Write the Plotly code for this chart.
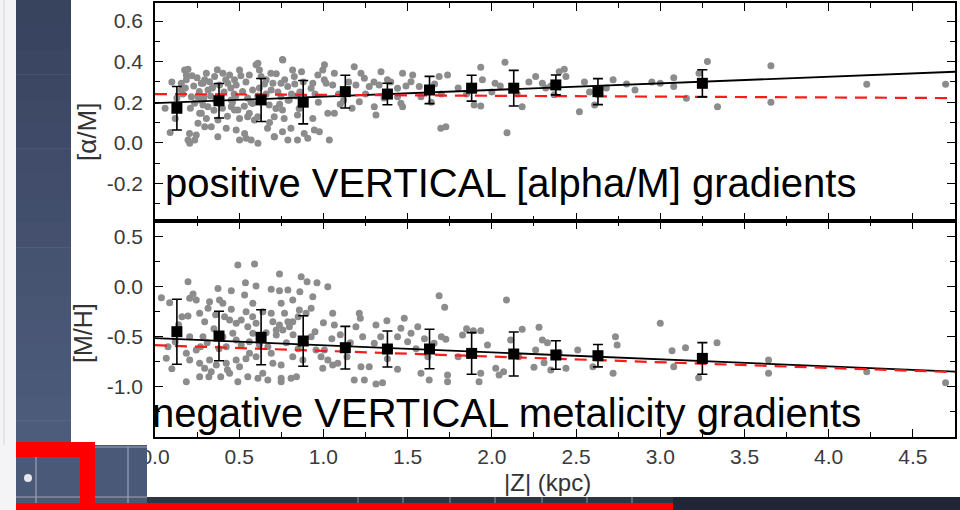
import plotly.graph_objects as go

# ---------------- data ----------------
# individual stars, upper panel: |Z| (kpc) and [alpha/M]
top_z = [0.176, 0.186, 0.156, 0.196, 0.186, 0.156, 0.216, 0.235, 0.275, 0.295, 0.315, 0.354, 0.383, 0.305,
         0.285, 0.263, 0.255, 0.324, 0.344, 0.285, 0.314, 0.265, 0.305, 0.334, 0.205, 0.196, 0.236, 0.245,
         0.206, 0.275, 0.255, 0.295, 0.374, 0.403, 0.443, 0.432, 0.482, 0.52, 0.453, 0.492, 0.502, 0.55,
         0.373, 0.423, 0.482, 0.502, 0.541, 0.472, 0.502, 0.453, 0.472, 0.59, 0.532, 0.571, 0.611, 0.709,
         0.789, 0.56, 0.60, 0.62, 0.63, 0.688, 0.757, 0.70, 0.748, 0.788, 0.817, 0.827, 0.58, 0.56, 0.61,
         0.678, 0.718, 0.757, 0.708, 0.767, 0.668, 0.708, 0.757, 0.807, 0.846, 0.856, 0.797, 0.748, 0.886,
         0.886, 0.846, 0.611, 0.759, 0.66, 0.62, 0.54, 0.41, 0.36, 0.23, 0.13, 0.10, 0.12, 0.09, 0.06, 0.40,
         0.64, 0.86, 0.88, 0.84, 0.72, 0.68, 0.58, 0.48, 0.43, 0.37, 0.22,
         0.165, 0.25, 0.33, 0.39, 0.45, 0.51, 0.57, 0.65, 0.73, 0.79, 0.87, 0.21, 0.29, 0.35, 0.42, 0.47,
         0.53, 0.61, 0.69, 0.77, 0.83, 0.18, 0.27, 0.34, 0.46, 0.55, 0.66, 0.74, 0.81,
         1.006, 0.996, 0.967, 0.937, 0.927, 1.016, 1.065, 1.055, 1.026, 1.065, 0.937, 0.946, 0.976, 0.907,
         1.035, 1.183, 1.223, 1.243, 1.193, 1.272, 1.213, 1.302, 1.312, 1.342, 1.331, 1.40, 1.44, 1.47,
         1.53, 1.52, 1.49, 1.569, 1.579, 1.44, 1.46, 1.47, 1.687, 1.697, 1.727, 1.737, 0.95, 0.97, 1.09,
         1.12, 1.15, 1.17, 1.25, 1.36, 1.62, 1.66, 1.70, 1.10, 1.005, 1.30, 1.38, 1.64,
         1.934, 1.944, 1.895, 1.934, 2.019, 2.05, 2.078, 2.09, 2.18, 2.26, 2.30, 2.32, 2.37, 2.40, 2.43,
         2.44, 2.52, 2.61, 1.80, 1.85, 2.00, 2.15, 2.22, 2.35, 2.55, 2.58, 2.68, 2.72, 2.80, 2.85, 2.95,
         3.0, 3.08, 3.08, 3.155, 3.23, 3.28, 3.34, 3.657, 3.657, 4.226, 4.694]
top_alpha = [0.359, 0.31, 0.26, 0.362, 0.334, 0.293, 0.227, 0.195, 0.293, 0.31, 0.26, 0.326, 0.285, 0.343,
             0.293, 0.252, 0.227, 0.301, 0.277, 0.186, 0.178, 0.145, 0.12, 0.079, 0.046, 0.013, 0.013, 0.038,
             -0.003, 0.145, 0.096, 0.079, 0.112, 0.343, 0.334, 0.293, 0.285, 0.252, 0.178, 0.161, 0.12, 0.128,
             0.029, 0.071, 0.063, 0.013, 0.022, 0.31, 0.359, 0.211, 0.161, 0.112, 0.046, 0.013, -0.003, 0.03,
             0.013, 0.334, 0.384, 0.359, 0.326, 0.343, 0.41, 0.293, 0.293, 0.277, 0.359, 0.326, 0.194, 0.145,
             0.128, 0.186, 0.169, 0.161, 0.128, 0.12, 0.071, 0.029, 0.054, 0.071, 0.137, 0.169, 0.211, 0.227,
             0.194, 0.046, 0.013, 0.392, 0.408, 0.24, 0.27, 0.30, 0.25, 0.21, 0.28, 0.22, 0.30, 0.12, 0.05,
             0.17, 0.17, 0.21, 0.25, 0.30, 0.23, 0.34, 0.10, 0.26, 0.23, 0.13, 0.36, 0.33,
             0.24, 0.32, 0.23, 0.19, 0.27, 0.33, 0.20, 0.29, 0.25, 0.21, 0.35, 0.17, 0.22, 0.16, 0.31, 0.24,
             0.18, 0.23, 0.26, 0.31, 0.29, 0.27, 0.21, 0.27, 0.20, 0.22, 0.31, 0.19, 0.24,
             0.384, 0.359, 0.334, 0.293, 0.269, 0.293, 0.343, 0.285, 0.145, 0.145, 0.12, 0.063, 0.054, 0.022,
             0.013, 0.375, 0.343, 0.318, 0.285, 0.277, 0.202, 0.178, 0.137, 0.35, 0.285, 0.30, 0.269, 0.343,
             0.334, 0.301, 0.28, 0.277, 0.227, 0.227, 0.195, 0.178, 0.326, 0.071, 0.079, 0.334, 0.24, 0.20,
             0.24, 0.21, 0.30, 0.17, 0.24, 0.22, 0.26, 0.29, 0.24, 0.19, 0.31, 0.30, 0.31, 0.20,
             0.372, 0.31, 0.186, 0.181, 0.293, 0.28, 0.397, 0.049, 0.178, 0.326, 0.293, 0.27, 0.236, 0.35,
             0.362, 0.326, 0.153, 0.186, 0.27, 0.24, 0.25, 0.24, 0.30, 0.28, 0.30, 0.25, 0.27, 0.31, 0.29,
             0.26, 0.30,
             0.293, 0.321, 0.277, 0.219, 0.343, 0.40, 0.178, 0.38, 0.2, 0.288, 0.288]

# individual stars, lower panel: |Z| (kpc) and [M/H]
bot_z = [0.492, 0.591, 0.739, 0.868, 0.196, 0.374, 0.453, 0.537, 0.60, 0.69, 0.739, 0.789, 0.038, 0.087,
         0.206, 0.226, 0.245, 0.324, 0.383, 0.403, 0.453, 0.532, 0.541, 0.581, 0.64, 0.69, 0.749, 0.769,
         0.818, 0.818, 0.857, 0.196, 0.265, 0.295, 0.315, 0.413, 0.443, 0.482, 0.512, 0.551, 0.60, 0.70,
         0.72, 0.759, 0.798, 0.077, 0.067, 0.186, 0.206, 0.245, 0.265, 0.295, 0.324, 0.334, 0.364, 0.265,
         0.186, 0.423, 0.443, 0.482, 0.502, 0.492, 0.551, 0.561, 0.60, 0.611, 0.64, 0.69, 0.70, 0.749,
         0.749, 0.808, 0.818, 0.878, 0.462, 0.482, 0.512, 0.403, 0.423, 0.285, 0.31, 0.206, 0.581, 0.72,
         0.739, 0.789, 0.32, 0.39, 0.43, 0.67, 0.749, 0.84, 0.35, 0.38, 0.56, 0.62, 0.66, 0.67, 0.78, 0.82,
         0.85, 0.14, 0.12, 0.10, 0.16, 0.36, 0.58, 0.86, 0.85, 0.54, 0.27,
         0.903, 0.962, 1.026, 0.937, 0.927, 0.897, 1.055, 1.065, 1.213, 1.219, 1.193, 1.312, 1.377, 1.48,
         1.46, 1.687, 1.72, 0.927, 0.956, 0.986, 1.006, 1.026, 1.055, 1.085, 0.996, 1.233, 1.302, 1.223,
         1.272, 1.183, 1.243, 1.312, 1.351, 1.44, 1.44, 1.52, 1.657, 1.579, 1.628, 1.737, 0.95, 1.05, 1.10,
         1.16, 1.34, 1.50, 1.55, 1.60, 1.70, 1.14, 1.38, 1.62, 1.00, 1.56,
         1.727, 1.737, 2.087, 1.826, 1.85, 1.89, 1.934, 1.974, 1.934, 1.924, 2.023, 2.043, 2.07, 2.112,
         2.18, 2.28, 2.30, 2.33, 2.26, 2.25, 2.31, 2.35, 2.44, 2.51, 2.60, 2.734, 2.744, 2.72, 1.80, 2.16,
         2.40,
         3.0, 3.07, 3.15, 3.08, 3.228, 3.337, 3.643, 3.643, 4.226, 4.694]
bot_mh = [0.217, 0.227, 0.127, 0.1, 0.05, -0.017, -0.04, 0.04, 0.007, -0.026, -0.04, -0.033, -0.11, -0.16,
          -0.116, -0.073, -0.133, -0.15, -0.133, -0.166, -0.226, -0.083, -0.25, -0.166, -0.25, -0.266,
          -0.166, -0.266, -0.133, -0.35, -0.233, -0.293, -0.266, -0.35, -0.216, -0.30, -0.333, -0.366,
          -0.333, -0.40, -0.366, -0.35, -0.433, -0.433, -0.40, -0.60, -0.716, -0.666, -0.733, -0.633,
          -0.766, -0.816, -0.733, -0.85, -0.783, -0.90, -0.95, -0.766, -0.866, -0.733, -0.80, -0.95, -0.90,
          -0.666, -0.70, -0.916, -0.866, -0.666, -0.766, -0.783, -0.916, -0.916, -0.70, -0.733, -0.466,
          -0.533, -0.583, -0.50, -0.60, -0.50, -0.56, -0.50, -0.466, -0.483, -0.383, -0.35, -0.90, -0.90,
          -0.83, -0.933, -0.95, -0.90, -0.42, -0.62, -0.55, -0.58, -0.46, -0.60, -0.56, -0.48, -0.62, -0.38,
          -0.55, -0.82, -0.30, -0.28, -0.30, -0.05, -0.30, -0.72, -0.60,
          0.05, 0.04, 0.0, -0.10, -0.216, -0.266, -0.266, -0.383, -0.266, -0.316, -0.40, -0.383, -0.34,
          -0.316, -0.416, -0.09, -0.206, -0.50, -0.633, -0.70, -0.633, -0.733, -0.783, -0.766, -0.816,
          -0.50, -0.566, -0.80, -0.80, -0.933, -0.933, -0.973, -0.96, -0.826, -0.50, -0.466, -0.566,
          -0.866, -0.933, -0.95, -0.45, -0.52, -0.48, -0.56, -0.50, -0.55, -0.62, -0.52, -0.50, -0.70,
          -0.72, -0.70, -0.36, -0.40,
          -0.526, -0.883, -0.133, -0.483, -0.42, -0.44, -0.44, -0.583, -0.866, -0.95, -0.816, -0.883,
          -0.85, -0.533, -0.426, -0.406, -0.533, -0.56, -0.633, -0.806, -0.76, -0.833, -0.816, -0.633,
          -0.80, -0.50, -0.583, -0.866, -0.70, -0.70, -0.66,
          -0.366, -0.64, -0.61, -0.80, -0.91, -0.56, -0.733, -0.866, -0.85, -0.96]

# binned means with dispersion
bin_z = [0.13, 0.38, 0.63, 0.88, 1.13, 1.38, 1.63, 1.88, 2.13, 2.38, 2.63, 3.25]
bin_alpha = [0.17, 0.207, 0.211, 0.20, 0.252, 0.24, 0.26, 0.269, 0.269, 0.285, 0.252, 0.293]
bin_alpha_err = [0.107, 0.085, 0.106, 0.107, 0.081, 0.053, 0.067, 0.064, 0.088, 0.049, 0.064, 0.067]
bin_mh = [-0.45, -0.493, -0.506, -0.543, -0.61, -0.623, -0.623, -0.667, -0.673, -0.683, -0.69, -0.717]
bin_mh_err = [0.325, 0.247, 0.275, 0.253, 0.213, 0.18, 0.197, 0.208, 0.22, 0.142, 0.112, 0.158]

# linear fits (end points over the plotted |Z| range)
fit_z = [0.0, 4.75]
alpha_fit = [0.195, 0.35]
alpha_model = [0.24, 0.22]
mh_fit = [-0.515, -0.85]
mh_model = [-0.585, -0.855]

x_ticks = [0.0, 0.5, 1.0, 1.5, 2.0, 2.5, 3.0, 3.5, 4.0, 4.5]
x_ticktext = ["0.0", "0.5", "1.0", "1.5", "2.0", "2.5", "3.0", "3.5", "4.0", "4.5"]
alpha_ticks = [-0.2, 0.0, 0.2, 0.4, 0.6]
alpha_ticktext = ["-0.2", "0.0", "0.2", "0.4", "0.6"]
mh_ticks = [-1.0, -0.5, 0.0, 0.5]
mh_ticktext = ["-1.0", "-0.5", "0.0", "0.5"]

# ---------------- figure ----------------
W, H = 960, 510


def px(x):
    return x / W


def py(y):
    return 1 - y / H


GREY = "#8c8c8c"
RED = "#ff1a1a"
FONT = "Liberation Sans, Arial, Helvetica, sans-serif"

fig = go.Figure()

for xa, ya, zs, vs, fit, model, bv, be in [
    ("x", "y", top_z, top_alpha, alpha_fit, alpha_model, bin_alpha, bin_alpha_err),
    ("x2", "y2", bot_z, bot_mh, mh_fit, mh_model, bin_mh, bin_mh_err),
]:
    fig.add_trace(go.Scatter(x=zs, y=vs, mode="markers", xaxis=xa, yaxis=ya,
                             marker=dict(color=GREY, size=7, line=dict(width=0)),
                             hoverinfo="skip"))
    fig.add_trace(go.Scatter(x=fit_z, y=fit, mode="lines", xaxis=xa, yaxis=ya,
                             line=dict(color="black", width=1.8)))
    fig.add_trace(go.Scatter(x=fit_z, y=model, mode="lines", xaxis=xa, yaxis=ya,
                             line=dict(color=RED, width=2.2, dash="12px,8px")))
    fig.add_trace(go.Scatter(x=bin_z, y=bv, mode="markers", xaxis=xa, yaxis=ya,
                             marker=dict(symbol="square", color="black", size=11),
                             error_y=dict(type="data", array=be, visible=True,
                                          color="black", thickness=1.6, width=5)))

axis_common = dict(showline=True, linecolor="black", linewidth=1.5, mirror="ticks",
                   ticks="inside", ticklen=8, tickwidth=1.3, tickcolor="black",
                   showgrid=False, zeroline=False, automargin=False,
                   tickfont=dict(family=FONT, size=21, color="#3a3a3a"))

xdom = [px(155), px(955)]
fig.update_layout(
    width=W, height=H, autosize=False,
    margin=dict(l=0, r=0, t=0, b=0, pad=0),
    paper_bgcolor="white", plot_bgcolor="white",
    showlegend=False,
    xaxis=dict(domain=xdom, range=[0, 4.75], anchor="y", tickmode="array",
               tickvals=x_ticks, showticklabels=False,
               minor=dict(ticks="inside", dtick=0.25, tick0=0, ticklen=5, tickcolor="black"),
               **axis_common),
    xaxis2=dict(domain=xdom, range=[0, 4.75], anchor="y2", tickmode="array",
                tickvals=x_ticks, ticktext=x_ticktext, ticklabelstandoff=0,
                minor=dict(ticks="inside", dtick=0.25, tick0=0, ticklen=5, tickcolor="black"),
                **axis_common),
    yaxis=dict(domain=[py(221), py(3)], range=[-0.386, 0.689], anchor="x",
               tickmode="array", tickvals=alpha_ticks, ticktext=alpha_ticktext,
               ticklabelstandoff=6,
               minor=dict(ticks="inside", dtick=0.1, tick0=0, ticklen=5, tickcolor="black"),
               **axis_common),
    yaxis2=dict(domain=[py(437), py(221)], range=[-1.503, 0.657], anchor="x2",
                tickmode="array", tickvals=mh_ticks, ticktext=mh_ticktext,
                ticklabelstandoff=6,
                minor=dict(ticks="inside", dtick=0.25, tick0=0, ticklen=5, tickcolor="black"),
                **axis_common),
)

# ---------------- slide frame around the chart ----------------
shapes = []


def rect(x0, y0, x1, y1, color, layer="above"):
    shapes.append(dict(type="rect", xref="paper", yref="paper",
                       x0=px(x0), x1=px(x1), y0=py(y1), y1=py(y0),
                       fillcolor=color, line=dict(width=0), layer=layer))


def vline(x, y0, y1, color, w=1):
    shapes.append(dict(type="line", xref="paper", yref="paper",
                       x0=px(x), x1=px(x), y0=py(y0), y1=py(y1),
                       line=dict(color=color, width=w), layer="above"))


def hline(y, x0, x1, color, w=1):
    shapes.append(dict(type="line", xref="paper", yref="paper",
                       x0=px(x0), x1=px(x1), y0=py(y), y1=py(y),
                       line=dict(color=color, width=w), layer="above"))


# left margin of the slide
rect(0, 0, 16, 510, "#f4f4f6")
vline(4, 0, 445, "#d4d6da", 1)

# dark blue side band, lighter towards the bottom
top_rgb = (56, 67, 94)
bot_rgb = (78, 92, 124)
n = 18
for i in range(n):
    t = i / (n - 1)
    c = tuple(round(a + (b - a) * t) for a, b in zip(top_rgb, bot_rgb))
    y0 = 445 * i / n
    y1 = 445 * (i + 1) / n + 0.5
    rect(16, y0, 71, y1, "rgb(%d,%d,%d)" % c)

# bottom-left slide panel
rect(16, 445, 147, 510, "#4b5979")
hline(447, 95, 147, "#9aa3b5", 1.2)
vline(128, 447, 503, "#9aa3b5", 1.2)
vline(36, 457, 503, "#9aa3b5", 1.2)
hline(497, 16, 147, "#9aa3b5", 1)
shapes.append(dict(type="circle", xref="paper", yref="paper",
                   x0=px(24), x1=px(32), y0=py(482), y1=py(474),
                   fillcolor="#e6e8ee", line=dict(width=0), layer="above"))

# bottom strip under the axis
rect(147, 497, 960, 510, "#2d3549")
for xt in [358, 403, 450, 495, 542, 587, 632]:
    vline(xt, 497, 503, "#8c95a8", 1)
rect(673, 497, 960, 510, "#202636")

# red highlight frame
rect(16, 442, 95, 457, "#ff0000")
rect(80, 442, 95, 510, "#ff0000")
rect(16, 503, 673, 510, "#ff0000")

fig.update_layout(shapes=shapes)

# ---------------- labels ----------------
ann = [
    dict(text="[\u03b1/M]", x=px(87), y=py(132), textangle=-90, font=dict(size=26)),
    dict(text="[M/H]", x=px(83), y=py(333), textangle=-90, font=dict(size=25)),
    dict(text="|Z| (kpc)", x=px(547), y=py(482), font=dict(size=24)),
    dict(text="positive VERTICAL [alpha/M] gradients", x=px(163), y=py(183),
         xanchor="left", font=dict(size=40, color="black")),
    dict(text="negative VERTICAL metalicity gradients", x=px(150), y=py(413),
         xanchor="left", font=dict(size=40, color="black")),
]
for a in ann:
    f = dict(family=FONT, color="#333333")
    f.update(a.pop("font"))
    a.setdefault("xanchor", "center")
    fig.add_annotation(xref="paper", yref="paper", yanchor="middle", showarrow=False,
                       font=f, **a)

fig.write_html("out.html")
